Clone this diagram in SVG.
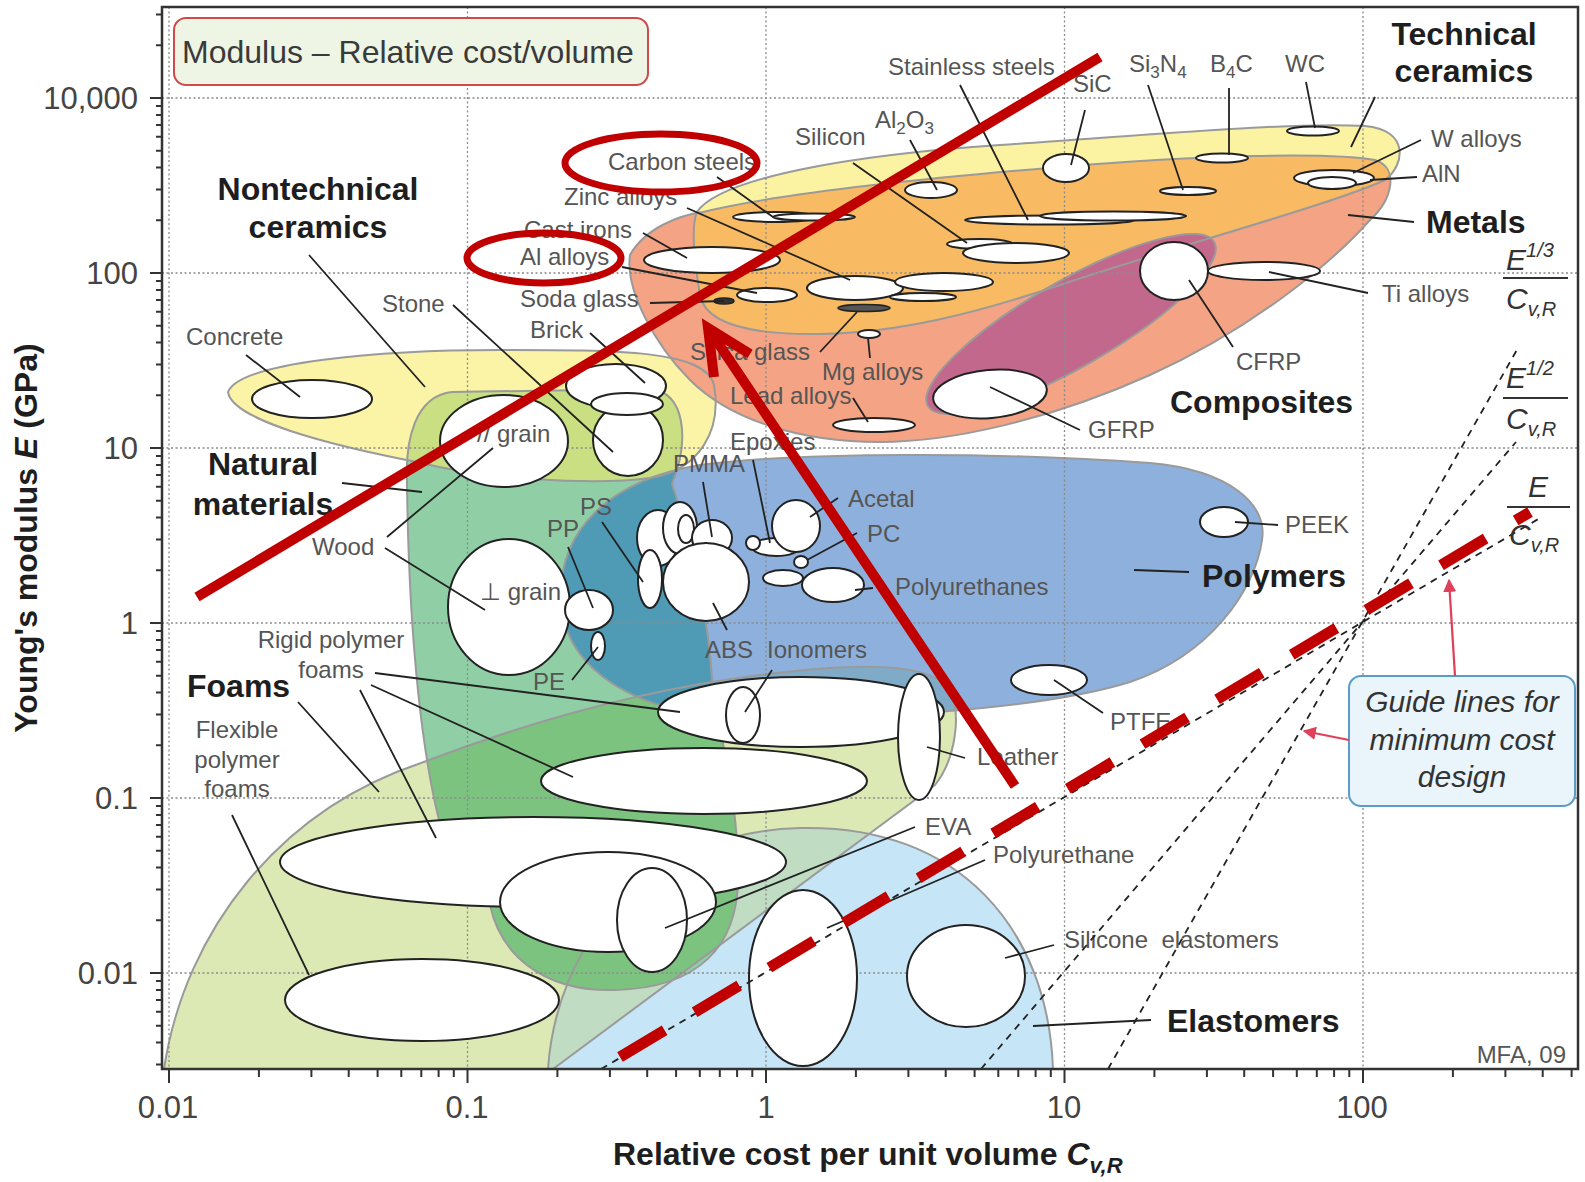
<svg xmlns="http://www.w3.org/2000/svg" width="1585" height="1182" viewBox="0 0 1585 1182">
<style>
text{font-family:'Liberation Sans',Arial,Helvetica,sans-serif}
.env{stroke:#9a9a9a;stroke-width:2;fill:none}
.bub{fill:#fff;stroke:#222;stroke-width:2}
.lead{stroke:#222;stroke-width:1.8;fill:none}
.lab{font-size:24px;fill:#555}
.cat{font-size:32px;font-weight:bold;fill:#1e1e1e}
.ax{font-size:31px;fill:#444}
.grid{stroke:#8a8a8a;stroke-width:1.3;stroke-dasharray:2 2.5;fill:none}
.red{stroke:#c00000;stroke-width:10;fill:none}
.guide{stroke:#222;stroke-width:1.8;stroke-dasharray:7 6;fill:none}
.frac{font-size:30px;font-style:italic;fill:#333}
.fbar{stroke:#333;stroke-width:2}
.ptr{stroke:#e0405a;stroke-width:2.2;fill:none}
</style>
<defs>
<path id="pFoam" d="M164,1069 C185,930 280,810 421,763 C520,725 640,690 760,675 C850,664 930,660 950,690 C962,715 955,760 935,785 L553,1069 Z"/>
<path id="pElast" d="M548,1069 C556,950 640,832 800,828 C960,824 1048,930 1053,1069 Z"/>
<path id="pNat" d="M407,483 C405,440 415,396 452,392 L650,389 C685,391 690,440 672,484 C692,545 708,610 712,680 C720,740 739,800 738,880 C737,945 700,988 615,990 C540,992 500,952 490,905 C470,868 446,842 439,820 C424,760 409,650 407,483 Z"/>
<path id="pNtc" d="M228,392 C240,362 380,350 500,350 C620,350 705,350 714,385 C722,430 700,470 650,478 C590,486 480,478 417,462 C330,445 232,420 228,392 Z"/>
<path id="pPoly" d="M561,600 C558,530 610,480 700,465 C800,452 1000,452 1150,463 C1230,470 1268,505 1262,540 C1255,590 1210,655 1130,682 C1040,710 850,722 720,716 C620,708 563,660 561,600 Z"/>
<path id="pMet" d="M630,255 C645,228 680,215 703,212 C760,198 880,182 1060,167 C1200,155 1330,152 1375,160 C1400,168 1392,200 1370,220 C1330,265 1250,330 1150,375 C1050,420 950,442 880,442 C800,442 730,420 690,380 C655,345 625,290 630,255 Z"/>
<path id="pTec" d="M697,212 C720,178 850,155 1000,145 C1150,135 1290,122 1365,126 C1410,130 1405,165 1385,180 C1330,205 1180,245 1060,285 C980,312 900,333 820,334 C745,335 705,322 700,295 C695,265 690,228 697,212 Z"/>
<clipPath id="cFoam"><path d="M164,1069 C185,930 280,810 421,763 C520,725 640,690 760,675 C850,664 930,660 950,690 C962,715 955,760 935,785 L553,1069 Z"/></clipPath>
<clipPath id="cNat"><path d="M407,483 C405,440 415,396 452,392 L650,389 C685,391 690,440 672,484 C692,545 708,610 712,680 C720,740 739,800 738,880 C737,945 700,988 615,990 C540,992 500,952 490,905 C470,868 446,842 439,820 C424,760 409,650 407,483 Z"/></clipPath>
<clipPath id="cMet"><path d="M630,255 C645,228 680,215 703,212 C760,198 880,182 1060,167 C1200,155 1330,152 1375,160 C1400,168 1392,200 1370,220 C1330,265 1250,330 1150,375 C1050,420 950,442 880,442 C800,442 730,420 690,380 C655,345 625,290 630,255 Z"/></clipPath>
<marker id="ah" viewBox="0 0 10 10" refX="9" refY="5" markerWidth="6" markerHeight="6" orient="auto"><path d="M0,0 L10,5 L0,10 Z" fill="#e0405a"/></marker>
</defs>
<rect width="1585" height="1182" fill="#fff"/>

<g id="envelopes">
<use href="#pFoam" fill="#dde9b5"/>
<use href="#pElast" fill="#c6e5f6"/>
<use href="#pElast" fill="#c0dcc2" clip-path="url(#cFoam)"/>
<use href="#pNat" fill="#90cfa5"/>
<use href="#pNat" fill="#7cc380" clip-path="url(#cFoam)"/>
<use href="#pNtc" fill="#fbf4a6"/>
<use href="#pNtc" fill="#c9df82" clip-path="url(#cNat)"/>
<use href="#pPoly" fill="#8eb0dc"/>
<use href="#pPoly" fill="#7fabc9" clip-path="url(#cFoam)"/>
<use href="#pPoly" fill="#4f9bb5" clip-path="url(#cNat)"/>
<use href="#pMet" fill="#f4a384"/>
<use href="#pTec" fill="#fbf2a2"/>
<use href="#pTec" fill="#f8bb63" clip-path="url(#cMet)"/>
<ellipse cx="1071" cy="324" rx="165" ry="43" transform="rotate(-29.8 1071 324)" fill="#c3688d"/>
<use href="#pFoam" class="env"/>
<use href="#pElast" class="env"/>
<use href="#pNat" class="env"/>
<use href="#pNtc" class="env"/>
<use href="#pPoly" class="env"/>
<use href="#pMet" class="env"/>
<use href="#pTec" class="env"/>
<ellipse cx="1071" cy="324" rx="165" ry="43" transform="rotate(-29.8 1071 324)" class="env"/>
</g>

<g id="grid">
<path class="grid" d="M169,7V1069 M467.5,7V1069 M766,7V1069 M1064.5,7V1069 M1363,7V1069 M162,98H1578 M162,273H1578 M162,448H1578 M162,623H1578 M162,798H1578 M162,973H1578"/>
</g>

<g id="title-box">
<rect x="174" y="18" width="474" height="67" rx="12" fill="#eef5e4" stroke="#d04a4a" stroke-width="2"/>
<text x="182" y="63" font-size="32" fill="#3a3a3a">Modulus – Relative cost/volume</text>
</g>

<g id="bubbles">
<ellipse class="bub" cx="312" cy="399" rx="60" ry="19"/>
<ellipse class="bub" cx="616" cy="386" rx="50" ry="22"/>
<ellipse class="bub" cx="628" cy="440" rx="35" ry="36"/>
<ellipse class="bub" cx="627" cy="404" rx="36" ry="11"/>
<ellipse class="bub" cx="504" cy="441" rx="64" ry="46"/>
<ellipse class="bub" cx="509" cy="607" rx="61" ry="68"/>
<ellipse class="bub" cx="775" cy="217" rx="42" ry="5"/>
<ellipse class="bub" cx="814" cy="217" rx="41" ry="3.5"/>
<ellipse class="bub" cx="931" cy="190" rx="26" ry="8"/>
<ellipse class="bub" cx="1050" cy="220" rx="85" ry="4.5"/>
<ellipse class="bub" cx="1113" cy="216" rx="73" ry="4.5"/>
<ellipse class="bub" cx="980" cy="244" rx="33" ry="5"/>
<ellipse class="bub" cx="1016" cy="253" rx="53" ry="10"/>
<ellipse class="bub" cx="712" cy="260" rx="68" ry="13"/>
<ellipse class="bub" cx="767" cy="295" rx="30" ry="7"/>
<ellipse cx="724" cy="301" rx="10" ry="3" fill="#333" stroke="#222" stroke-width="1.5"/>
<ellipse class="bub" cx="855" cy="288" rx="48" ry="12"/>
<ellipse class="bub" cx="944" cy="282" rx="49" ry="9"/>
<ellipse class="bub" cx="923" cy="297" rx="33" ry="4"/>
<ellipse cx="864" cy="308" rx="26" ry="3.5" fill="#555" stroke="#222" stroke-width="1.5"/>
<ellipse class="bub" cx="869" cy="334" rx="11" ry="4"/>
<ellipse class="bub" cx="874" cy="425" rx="41" ry="7"/>
<ellipse class="bub" cx="1066" cy="168" rx="23" ry="14"/>
<ellipse class="bub" cx="1188" cy="191" rx="28" ry="4"/>
<ellipse class="bub" cx="1222" cy="158" rx="26" ry="4.5"/>
<ellipse class="bub" cx="1313" cy="131" rx="26" ry="4.5"/>
<ellipse class="bub" cx="1334" cy="178" rx="40" ry="8"/>
<ellipse class="bub" cx="1332" cy="183" rx="24" ry="6"/>
<ellipse class="bub" cx="1264" cy="271" rx="56" ry="9"/>
<ellipse class="bub" cx="1174" cy="271" rx="34" ry="29"/>
<ellipse class="bub" cx="990" cy="394" rx="57" ry="24" transform="rotate(-5 990 394)"/>
<ellipse class="bub" cx="658" cy="538" rx="21" ry="28"/>
<ellipse class="bub" cx="680" cy="528" rx="17" ry="26"/>
<ellipse class="bub" cx="686" cy="529" rx="8" ry="14"/>
<ellipse class="bub" cx="712" cy="538" rx="20" ry="18"/>
<ellipse class="bub" cx="650" cy="579" rx="12" ry="29"/>
<ellipse class="bub" cx="706" cy="582" rx="43" ry="39"/>
<ellipse class="bub" cx="589" cy="610" rx="24" ry="20"/>
<ellipse class="bub" cx="598" cy="646" rx="7" ry="14"/>
<ellipse class="bub" cx="776" cy="547" rx="24" ry="9"/>
<ellipse class="bub" cx="753" cy="543" rx="7" ry="7"/>
<ellipse class="bub" cx="796" cy="526" rx="24" ry="26"/>
<ellipse class="bub" cx="801" cy="562" rx="7" ry="6"/>
<ellipse class="bub" cx="783" cy="578" rx="20" ry="8"/>
<ellipse class="bub" cx="833" cy="585" rx="31" ry="17"/>
<ellipse class="bub" cx="1224" cy="522" rx="24" ry="15"/>
<ellipse class="bub" cx="1049" cy="680" rx="38" ry="15"/>
<ellipse class="bub" cx="801" cy="712" rx="143" ry="35"/>
<ellipse class="bub" cx="743" cy="715" rx="17" ry="28"/>
<ellipse class="bub" cx="919" cy="737" rx="21" ry="63"/>
<ellipse class="bub" cx="704" cy="781" rx="163" ry="33"/>
<ellipse class="bub" cx="533" cy="862" rx="253" ry="45"/>
<ellipse class="bub" cx="608" cy="902" rx="108" ry="50"/>
<ellipse class="bub" cx="652" cy="920" rx="35" ry="52"/>
<ellipse class="bub" cx="422" cy="1000" rx="137" ry="41"/>
<ellipse class="bub" cx="803" cy="978" rx="54" ry="88"/>
<ellipse class="bub" cx="966" cy="976" rx="59" ry="51"/>
</g>

<g id="connectors">
<path class="lead" d="M309,255L425,387 M246,355L300,397 M453,305L613,452 M590,333L645,383 M650,303L724,301 M622,267L757,293 M643,233L687,258 M687,208L850,280 M717,177L773,217 M960,85L1028,220 M853,163L967,243 M910,140L937,190 M1085,110L1071,165 M1148,85L1183,190 M1229,88L1229,155 M1306,82L1315,128 M1375,97L1351,147 M1421,140L1353,173 M1417,177L1370,180 M1414,222L1348,215 M1368,293L1269,272 M1189,280L1233,347 M990,387L1080,430 M820,352L857,312 M868,338L870,358 M853,398L868,422"/>
<path class="lead" d="M342,483L422,492 M387,537L493,448 M385,548L485,610 M703,482L712,537 M753,460L770,543 M838,498L810,517 M857,533L807,560 M873,588L855,590 M602,522L643,582 M568,547L593,608 M727,630L713,603 M772,670L745,712 M572,680L598,647 M965,758L927,747 M1278,525L1235,522 M1189,572L1134,570 M1103,713L1054,680"/>
<path class="lead" d="M915,827L665,928 M985,860L827,928 M1054,945L1005,958 M1151,1020L1033,1026 M298,702L379,792 M375,673L680,712 M371,685L573,777 M360,690L436,838 M232,815L309,975"/>
</g>

<g id="labels">
<text class="lab" x="186" y="345">Concrete</text>
<text class="lab" x="382" y="312">Stone</text>
<text class="lab" x="530" y="338" font-size="22">Brick</text>
<text class="lab" x="520" y="307">Soda glass</text>
<text class="lab" x="520" y="265">Al alloys</text>
<text class="lab" x="524" y="238">Cast irons</text>
<text class="lab" x="564" y="205">Zinc alloys</text>
<text class="lab" x="608" y="170">Carbon steels</text>
<text class="lab" x="888" y="75">Stainless steels</text>
<text class="lab" x="795" y="145">Silicon</text>
<text class="lab" x="875" y="128">Al<tspan font-size="17" dy="6">2</tspan><tspan dy="-6">O</tspan><tspan font-size="17" dy="6">3</tspan></text>
<text class="lab" x="1073" y="92">SiC</text>
<text class="lab" x="1129" y="72">Si<tspan font-size="17" dy="6">3</tspan><tspan dy="-6">N</tspan><tspan font-size="17" dy="6">4</tspan></text>
<text class="lab" x="1210" y="72">B<tspan font-size="17" dy="6">4</tspan><tspan dy="-6">C</tspan></text>
<text class="lab" x="1285" y="72">WC</text>
<text class="lab" x="1431" y="147">W alloys</text>
<text class="lab" x="1422" y="182">AlN</text>
<text class="lab" x="1382" y="302">Ti alloys</text>
<text class="lab" x="1236" y="370">CFRP</text>
<text class="lab" x="1088" y="438">GFRP</text>
<text class="lab" x="690" y="360">Silica glass</text>
<text class="lab" x="822" y="380">Mg alloys</text>
<text class="lab" x="730" y="404">Lead alloys</text>
<text class="lab" x="730" y="450">Epoxies</text>
<text class="lab" x="673" y="472">PMMA</text>
<text class="lab" x="848" y="507">Acetal</text>
<text class="lab" x="867" y="542">PC</text>
<text class="lab" x="580" y="515">PS</text>
<text class="lab" x="547" y="537">PP</text>
<text class="lab" x="895" y="595">Polyurethanes</text>
<text class="lab" x="705" y="658">ABS</text>
<text class="lab" x="767" y="658">Ionomers</text>
<text class="lab" x="533" y="690">PE</text>
<text class="lab" x="1285" y="533">PEEK</text>
<text class="lab" x="1110" y="730">PTFE</text>
<text class="lab" x="977" y="765">Leather</text>
<text class="lab" x="925" y="835">EVA</text>
<text class="lab" x="993" y="863">Polyurethane</text>
<text class="lab" x="1064" y="948" xml:space="preserve">Silicone  elastomers</text>
<text class="lab" x="312" y="555">Wood</text>
<text class="lab" x="477" y="442">// grain</text>
<text class="lab" x="480" y="600">⊥ grain</text>
<text class="lab" x="331" y="648" text-anchor="middle">Rigid polymer</text>
<text class="lab" x="331" y="678" text-anchor="middle">foams</text>
<text class="lab" x="237" y="738" text-anchor="middle">Flexible</text>
<text class="lab" x="237" y="768" text-anchor="middle">polymer</text>
<text class="lab" x="237" y="797" text-anchor="middle">foams</text>
<text class="lab" x="1566" y="1063" font-size="18" text-anchor="end">MFA, 09</text>
</g>

<g id="categories">
<text class="cat" x="318" y="200" text-anchor="middle">Nontechnical</text>
<text class="cat" x="318" y="238" text-anchor="middle">ceramics</text>
<text class="cat" x="263" y="475" text-anchor="middle">Natural</text>
<text class="cat" x="263" y="515" text-anchor="middle">materials</text>
<text class="cat" x="187" y="697">Foams</text>
<text class="cat" x="1464" y="45" text-anchor="middle">Technical</text>
<text class="cat" x="1464" y="82" text-anchor="middle">ceramics</text>
<text class="cat" x="1426" y="233">Metals</text>
<text class="cat" x="1170" y="413">Composites</text>
<text class="cat" x="1202" y="587">Polymers</text>
<text class="cat" x="1167" y="1032">Elastomers</text>
</g>

<g id="guide-lines">
<path class="guide" d="M601,1069L1540,518"/>
<path class="guide" d="M981,1069L1516,442"/>
<path class="guide" d="M1108,1069L1518,348"/>
</g>

<g id="guide-labels">
<text class="frac" x="1506" y="270">E<tspan font-size="20" dy="-13">1/3</tspan></text>
<line class="fbar" x1="1503" y1="278" x2="1568" y2="278"/>
<text class="frac" x="1506" y="309">C<tspan font-size="20" dy="7">v,R</tspan></text>
<text class="frac" x="1506" y="388">E<tspan font-size="20" dy="-13">1/2</tspan></text>
<line class="fbar" x1="1503" y1="398" x2="1568" y2="398"/>
<text class="frac" x="1506" y="429">C<tspan font-size="20" dy="7">v,R</tspan></text>
<text class="frac" x="1528" y="497">E</text>
<line class="fbar" x1="1507" y1="507" x2="1570" y2="507"/>
<text class="frac" x="1509" y="545">C<tspan font-size="20" dy="7">v,R</tspan></text>
</g>

<g id="guide-box">
<rect x="1349" y="676" width="226" height="130" rx="12" fill="#eaf4fb" stroke="#5a9cc8" stroke-width="2"/>
<text class="frac" x="1462" y="712" text-anchor="middle" font-size="31">Guide lines for</text>
<text class="frac" x="1462" y="750" text-anchor="middle" font-size="31">minimum cost</text>
<text class="frac" x="1462" y="787" text-anchor="middle" font-size="31">design</text>
<path class="ptr" d="M1455,676L1449,580" marker-end="url(#ah)"/>
<path class="ptr" d="M1349,740L1304,731" marker-end="url(#ah)"/>
</g>

<g id="red-marks">
<path d="M620,1057L1530,512" stroke="#c00000" stroke-width="11" stroke-dasharray="52 35" fill="none"/>
<path class="red" d="M197,597L1100,57"/>
<path class="red" d="M1015,786L708,328"/>
<path class="red" d="M714,377L708,328L750,354" stroke-linejoin="miter"/>
<ellipse cx="661" cy="163" rx="96" ry="29" fill="none" stroke="#c00000" stroke-width="7"/>
<ellipse cx="544" cy="258" rx="77" ry="25" fill="none" stroke="#c00000" stroke-width="7"/>
</g>

<g id="axes">
<rect x="162" y="7" width="1416" height="1062" fill="none" stroke="#333" stroke-width="2.5"/>
<path stroke="#333" stroke-width="2" fill="none" d="M150,98H162 M150,273H162 M150,448H162 M150,623H162 M150,798H162 M150,973H162 M156,14.5H162 M156,45.3H162 M156,106H162 M156,115H162 M156,125.1H162 M156,136.8H162 M156,150.7H162 M156,167.6H162 M156,189.5H162 M156,220.3H162 M156,281H162 M156,290H162 M156,300.1H162 M156,311.8H162 M156,325.7H162 M156,342.6H162 M156,364.5H162 M156,395.3H162 M156,456H162 M156,465H162 M156,475.1H162 M156,486.8H162 M156,500.7H162 M156,517.6H162 M156,539.5H162 M156,570.3H162 M156,631H162 M156,640H162 M156,650.1H162 M156,661.8H162 M156,675.7H162 M156,692.6H162 M156,714.5H162 M156,745.3H162 M156,806H162 M156,815H162 M156,825.1H162 M156,836.8H162 M156,850.7H162 M156,867.6H162 M156,889.5H162 M156,920.3H162 M156,981H162 M156,990H162 M156,1000.1H162 M156,1011.8H162 M156,1025.7H162 M156,1042.6H162 M156,1064.5H162"/>
<path stroke="#333" stroke-width="2" fill="none" d="M169,1069V1083 M467.5,1069V1083 M766,1069V1083 M1064.5,1069V1083 M1363,1069V1083 M258.9,1069V1077 M311.4,1069V1077 M348.7,1069V1077 M377.6,1069V1077 M401.3,1069V1077 M421.3,1069V1077 M438.6,1069V1077 M453.8,1069V1077 M557.4,1069V1077 M609.9,1069V1077 M647.2,1069V1077 M676.1,1069V1077 M699.8,1069V1077 M719.8,1069V1077 M737.1,1069V1077 M752.3,1069V1077 M855.9,1069V1077 M908.4,1069V1077 M945.7,1069V1077 M974.6,1069V1077 M998.3,1069V1077 M1018.3,1069V1077 M1035.6,1069V1077 M1050.8,1069V1077 M1154.4,1069V1077 M1206.9,1069V1077 M1244.2,1069V1077 M1273.1,1069V1077 M1296.8,1069V1077 M1316.8,1069V1077 M1334.1,1069V1077 M1349.3,1069V1077 M1452.9,1069V1077 M1505.4,1069V1077 M1542.7,1069V1077 M1571.6,1069V1077"/>
<text class="ax" x="138" y="109" text-anchor="end">10,000</text>
<text class="ax" x="138" y="284" text-anchor="end">100</text>
<text class="ax" x="138" y="459" text-anchor="end">10</text>
<text class="ax" x="138" y="634" text-anchor="end">1</text>
<text class="ax" x="138" y="809" text-anchor="end">0.1</text>
<text class="ax" x="138" y="984" text-anchor="end">0.01</text>
<text class="ax" x="168" y="1118" text-anchor="middle">0.01</text>
<text class="ax" x="467" y="1118" text-anchor="middle">0.1</text>
<text class="ax" x="766" y="1118" text-anchor="middle">1</text>
<text class="ax" x="1064" y="1118" text-anchor="middle">10</text>
<text class="ax" x="1362" y="1118" text-anchor="middle">100</text>
<text class="cat" transform="translate(37,538) rotate(-90)" text-anchor="middle">Young's modulus <tspan font-style="italic">E</tspan> (GPa)</text>
<text class="cat" x="613" y="1165" font-size="31.5">Relative cost per unit volume <tspan font-style="italic">C</tspan><tspan font-style="italic" font-size="22" dy="8">v,R</tspan></text>
</g>
</svg>
